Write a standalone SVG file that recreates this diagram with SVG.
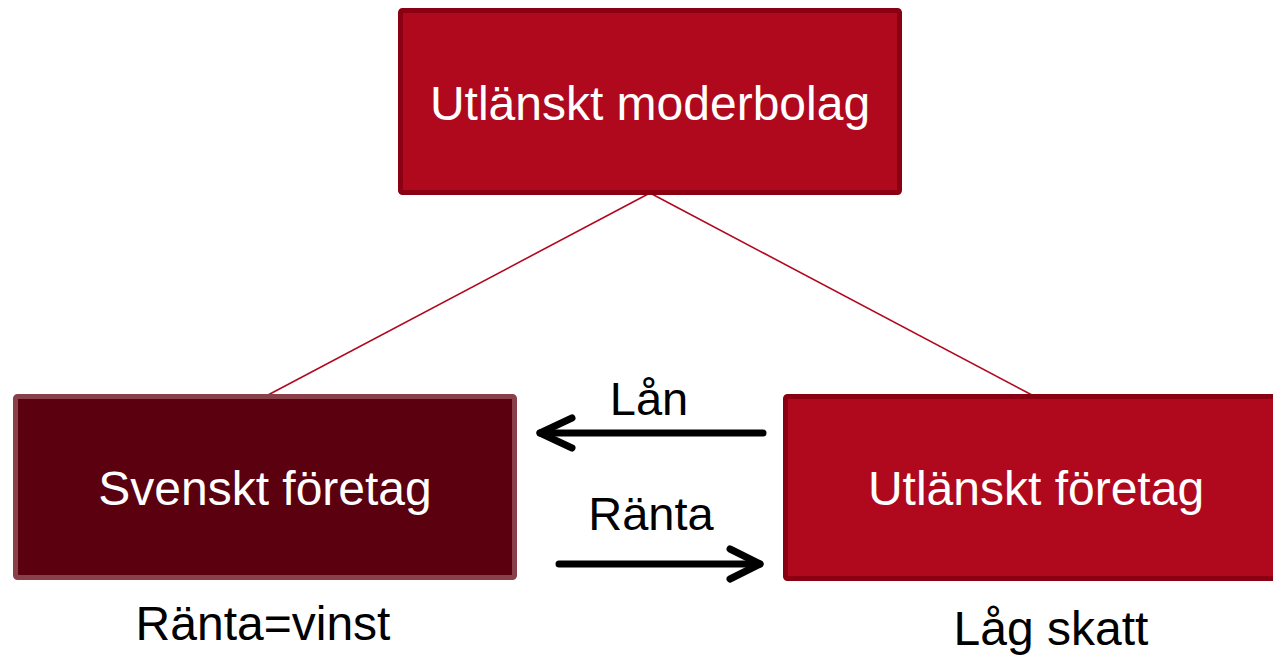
<svg xmlns="http://www.w3.org/2000/svg" width="1273" height="655" viewBox="0 0 1273 655">
  <style>
    .lbl { font-family: "Liberation Sans", Arial, sans-serif; font-size: 48px; text-anchor: middle; }
    .small { font-size: 47px; }
    .white { fill: #ffffff; }
    .black { fill: #000000; }
    .red { fill: #b0091e; stroke: #8a0012; stroke-width: 5; }
    .dark { fill: #5a000f; stroke: #8a4048; stroke-width: 5; }
    .conn { stroke: #b0091e; stroke-width: 1.6; fill: none; }
    .arrow { stroke: #000000; stroke-width: 7; fill: none; stroke-linecap: round; stroke-linejoin: round; }
  </style>
  <rect width="1273" height="655" fill="#ffffff"/>
  <g id="connectors">
    <line class="conn" x1="650" y1="193" x2="268" y2="395"/>
    <line class="conn" x1="650" y1="193" x2="1032" y2="395"/>
    <g id="arrow-lan">
      <line class="arrow" x1="763" y1="433" x2="540" y2="433" stroke-linecap="butt"/>
      <polyline class="arrow" points="572,418 540,433 572,448"/>
    </g>
    <g id="arrow-ranta">
      <line class="arrow" x1="559" y1="564" x2="760" y2="564" stroke-linecap="butt"/>
      <polyline class="arrow" points="730,549 760,564 730,579"/>
    </g>
    <text class="lbl small black" x="649" y="415">Lån</text>
    <text class="lbl small black" x="651" y="530">Ränta</text>
  </g>
  <g id="node-moderbolag">
    <rect class="red" x="400.5" y="10.5" width="499" height="182" rx="2"/>
    <text class="lbl white" x="650" y="120">Utlänskt moderbolag</text>
  </g>
  <g id="node-svenskt">
    <rect class="dark" x="15.5" y="396.5" width="499" height="181" rx="2"/>
    <text class="lbl white" x="265" y="505">Svenskt företag</text>
    <text class="lbl black" x="263" y="640">Ränta=vinst</text>
  </g>
  <g id="node-utlanskt">
    <rect class="red" x="785.5" y="396.5" width="495" height="182" rx="2"/>
    <text class="lbl white" x="1036" y="505">Utlänskt företag</text>
    <text class="lbl black" x="1051" y="645">Låg skatt</text>
  </g>
</svg>
